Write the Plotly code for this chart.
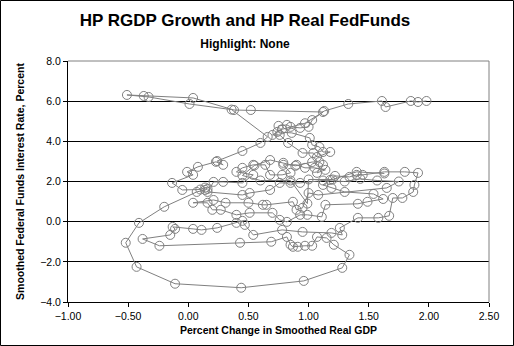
import plotly.graph_objects as go

# Smoothed real GDP growth (percent change) and smoothed real fed funds rate (percent)
gdp_growth = [
    1.98, 1.91, 1.85, 1.64, 1.61, 1.33, 1.13, 1.03, 1.00, 0.93, 0.85, 0.82, 0.75, 0.74, 0.86,
    1.01, 1.03, 1.09, 1.12, 1.18, 1.07, 1.04, 0.95, 0.83, 0.76, 0.70, 0.78, 0.97, 1.12, 0.52,
    0.38, 0.04, -0.37, -0.51, -0.33, 0.01, 0.36, 0.66, 0.60, 0.45, 0.24, 0.29, 0.23, 0.08, -0.01,
    0.04, -0.135, -0.05, 0.10, 0.14, 0.16, 0.14, 0.07, -0.20, -0.41, -0.52, -0.43, -0.11, 0.44, 0.96,
    1.28, 1.34, 1.21, 1.15, 1.07, 1.03, 0.97, 0.91, 0.87, 0.85, 0.82, 0.69, 0.43, -0.24, -0.38,
    -0.15, -0.11, -0.13, 0.04, 0.11, 0.24, 0.40, 0.45, 0.47, 0.54, 0.78, 0.95, 1.19, 1.28, 1.26,
    1.41, 1.58, 1.67, 1.70, 1.78, 1.87, 1.88, 1.91, 1.80, 1.63, 1.45, 1.40, 1.34, 1.22, 1.18,
    1.12, 1.19, 1.30, 1.54, 1.62, 1.49, 1.41, 1.14, 1.11, 0.99, 0.93, 0.82, 0.76, 0.70, 0.51,
    0.40, 0.27, 0.20, 0.16, 0.04, 0.21, 0.31, 0.50, 0.62, 0.65, 0.87, 0.90, 0.95, 1.00, 1.08,
    1.65, 1.75, 1.57, 1.43, 1.30, 1.12, 0.93, 0.85, 0.76, 0.68, 0.51, 0.45, 0.16, 0.21, 0.29,
    0.45, 0.54, 0.40, 0.45, 0.54, 0.64, 0.68, 0.78, 0.85, 0.79, 0.90, 0.97, 1.05, 1.14, 1.07,
    1.12, 1.09, 1.03, 0.89, 0.79, 0.68, 0.55, 0.45, 0.60, 0.85, 0.99, 1.00, 1.20, 1.40, 1.63,
]
real_fedfunds = [
    6.01, 5.96, 6.01, 5.71, 6.01, 5.86, 5.51, 5.06, 4.72, 4.67, 4.72, 4.82, 4.77, 4.47, 4.42,
    4.17, 3.82, 3.72, 3.47, 3.47, 3.22, 3.42, 3.42, 3.92, 4.32, 4.32, 4.60, 4.90, 5.46, 5.56,
    5.56, 6.16, 6.26, 6.31, 6.21, 5.86, 5.58, 4.22, 3.92, 3.52, 3.02, 2.83, 2.98, 2.73, 2.48,
    2.33, 1.93, 1.58, 1.60, 1.70, 1.63, 1.58, 1.48, 0.74, -0.06, -1.05, -2.25, -3.09, -3.29, -2.95,
    -2.30, -1.65, -1.15, -0.81, -0.76, -1.20, -1.20, -1.25, -1.25, -1.15, -0.76, -1.00, -1.05, -1.20, -0.86,
    -0.66, -0.36, -0.26, -0.36, -0.41, -0.31, -0.06, 0.04, -0.16, -0.66, -0.41, -0.51, -0.56, -0.66, -0.31,
    0.19, 0.19, 0.29, 1.18, 1.18, 1.48, 1.83, 2.43, 2.48, 2.48, 2.33, 2.33, 2.23, 2.28, 2.08,
    1.83, 1.68, 1.48, 1.38, 1.13, 0.99, 0.89, 0.84, 0.24, 0.34, 0.34, -0.01, 0.09, 0.44, 0.44,
    0.34, 0.59, 0.59, 0.94, 0.94, 1.08, 0.94, 0.94, 0.84, 0.84, 0.99, 0.59, 0.69, 1.43, 1.33,
    1.68, 2.00, 2.05, 2.13, 2.00, 2.05, 1.93, 1.93, 1.93, 1.58, 1.43, 1.33, 1.48, 1.98, 1.98,
    1.93, 2.33, 2.48, 2.68, 2.83, 2.83, 2.33, 2.33, 2.43, 2.83, 2.83, 2.68, 2.68, 2.58, 2.43,
    2.83, 2.97, 2.97, 2.78, 2.93, 3.07, 2.80, 2.30, 2.05, 2.05, 0.90, 2.10, 2.10, 2.48, 2.40,
]

x_ticks = [-1.0, -0.5, 0.0, 0.5, 1.0, 1.5, 2.0, 2.5]
y_ticks = [-4.0, -2.0, 0.0, 2.0, 4.0, 6.0, 8.0]

FONT = "Arial, Liberation Sans, sans-serif"
GRAY = "#808080"

fig = go.Figure()
fig.add_trace(go.Scatter(
    x=gdp_growth, y=real_fedfunds, mode="lines+markers",
    line=dict(color=GRAY, width=1),
    marker=dict(symbol="circle-open", size=9, color=GRAY, line=dict(width=1, color=GRAY)),
    showlegend=False, hoverinfo="skip",
))

fig.update_layout(
    width=514, height=346,
    margin=dict(l=68, r=25, t=61, b=44),
    paper_bgcolor="white", plot_bgcolor="white",
    font=dict(family=FONT, color="black", size=11),
    title=dict(
        text="<b>HP RGDP Growth and HP Real FedFunds</b><br><span style='font-size:12px'><b>Highlight: None</b></span>",
        x=245 / 514, xanchor="center", y=0.925, yanchor="top",
        font=dict(family=FONT, size=17, color="black"),
    ),
    xaxis=dict(
        range=[-1, 2.5], tickvals=x_ticks, tickformat=".2f",
        showgrid=False, zeroline=False,
        showline=True, linecolor="black", linewidth=1,
        ticks="outside", ticklen=4, tickcolor="black",
        tickfont=dict(size=10.5, family=FONT),
        title=dict(text="<b>Percent Change in Smoothed Real GDP</b>", font=dict(size=10.5, family=FONT), standoff=6),
    ),
    yaxis=dict(
        range=[-4, 8], tickvals=y_ticks, tickformat=".1f",
        showgrid=True, gridcolor="black", gridwidth=1, zeroline=False,
        showline=True, linecolor="black", linewidth=1,
        ticks="outside", ticklen=4, tickcolor="black",
        tickfont=dict(size=10.5, family=FONT),
        title=dict(text="<b>Smoothed Federal Funds Interest Rate, Percent</b>", font=dict(size=10.5, family=FONT), standoff=13),
    ),
    shapes=[
        dict(type="line", xref="paper", yref="paper", x0=0, x1=1, y0=1, y1=1,
             line=dict(color=GRAY, width=1), layer="above"),
        dict(type="line", xref="paper", yref="paper", x0=1, x1=1, y0=0, y1=1,
             line=dict(color=GRAY, width=1), layer="above"),
        dict(type="rect", xref="paper", yref="paper",
             x0=-67.5 / 421, x1=445.5 / 421, y0=-43.5 / 241, y1=301.5 / 241,
             line=dict(color="black", width=1), layer="above"),
    ],
)

fig.write_html("out.html")
